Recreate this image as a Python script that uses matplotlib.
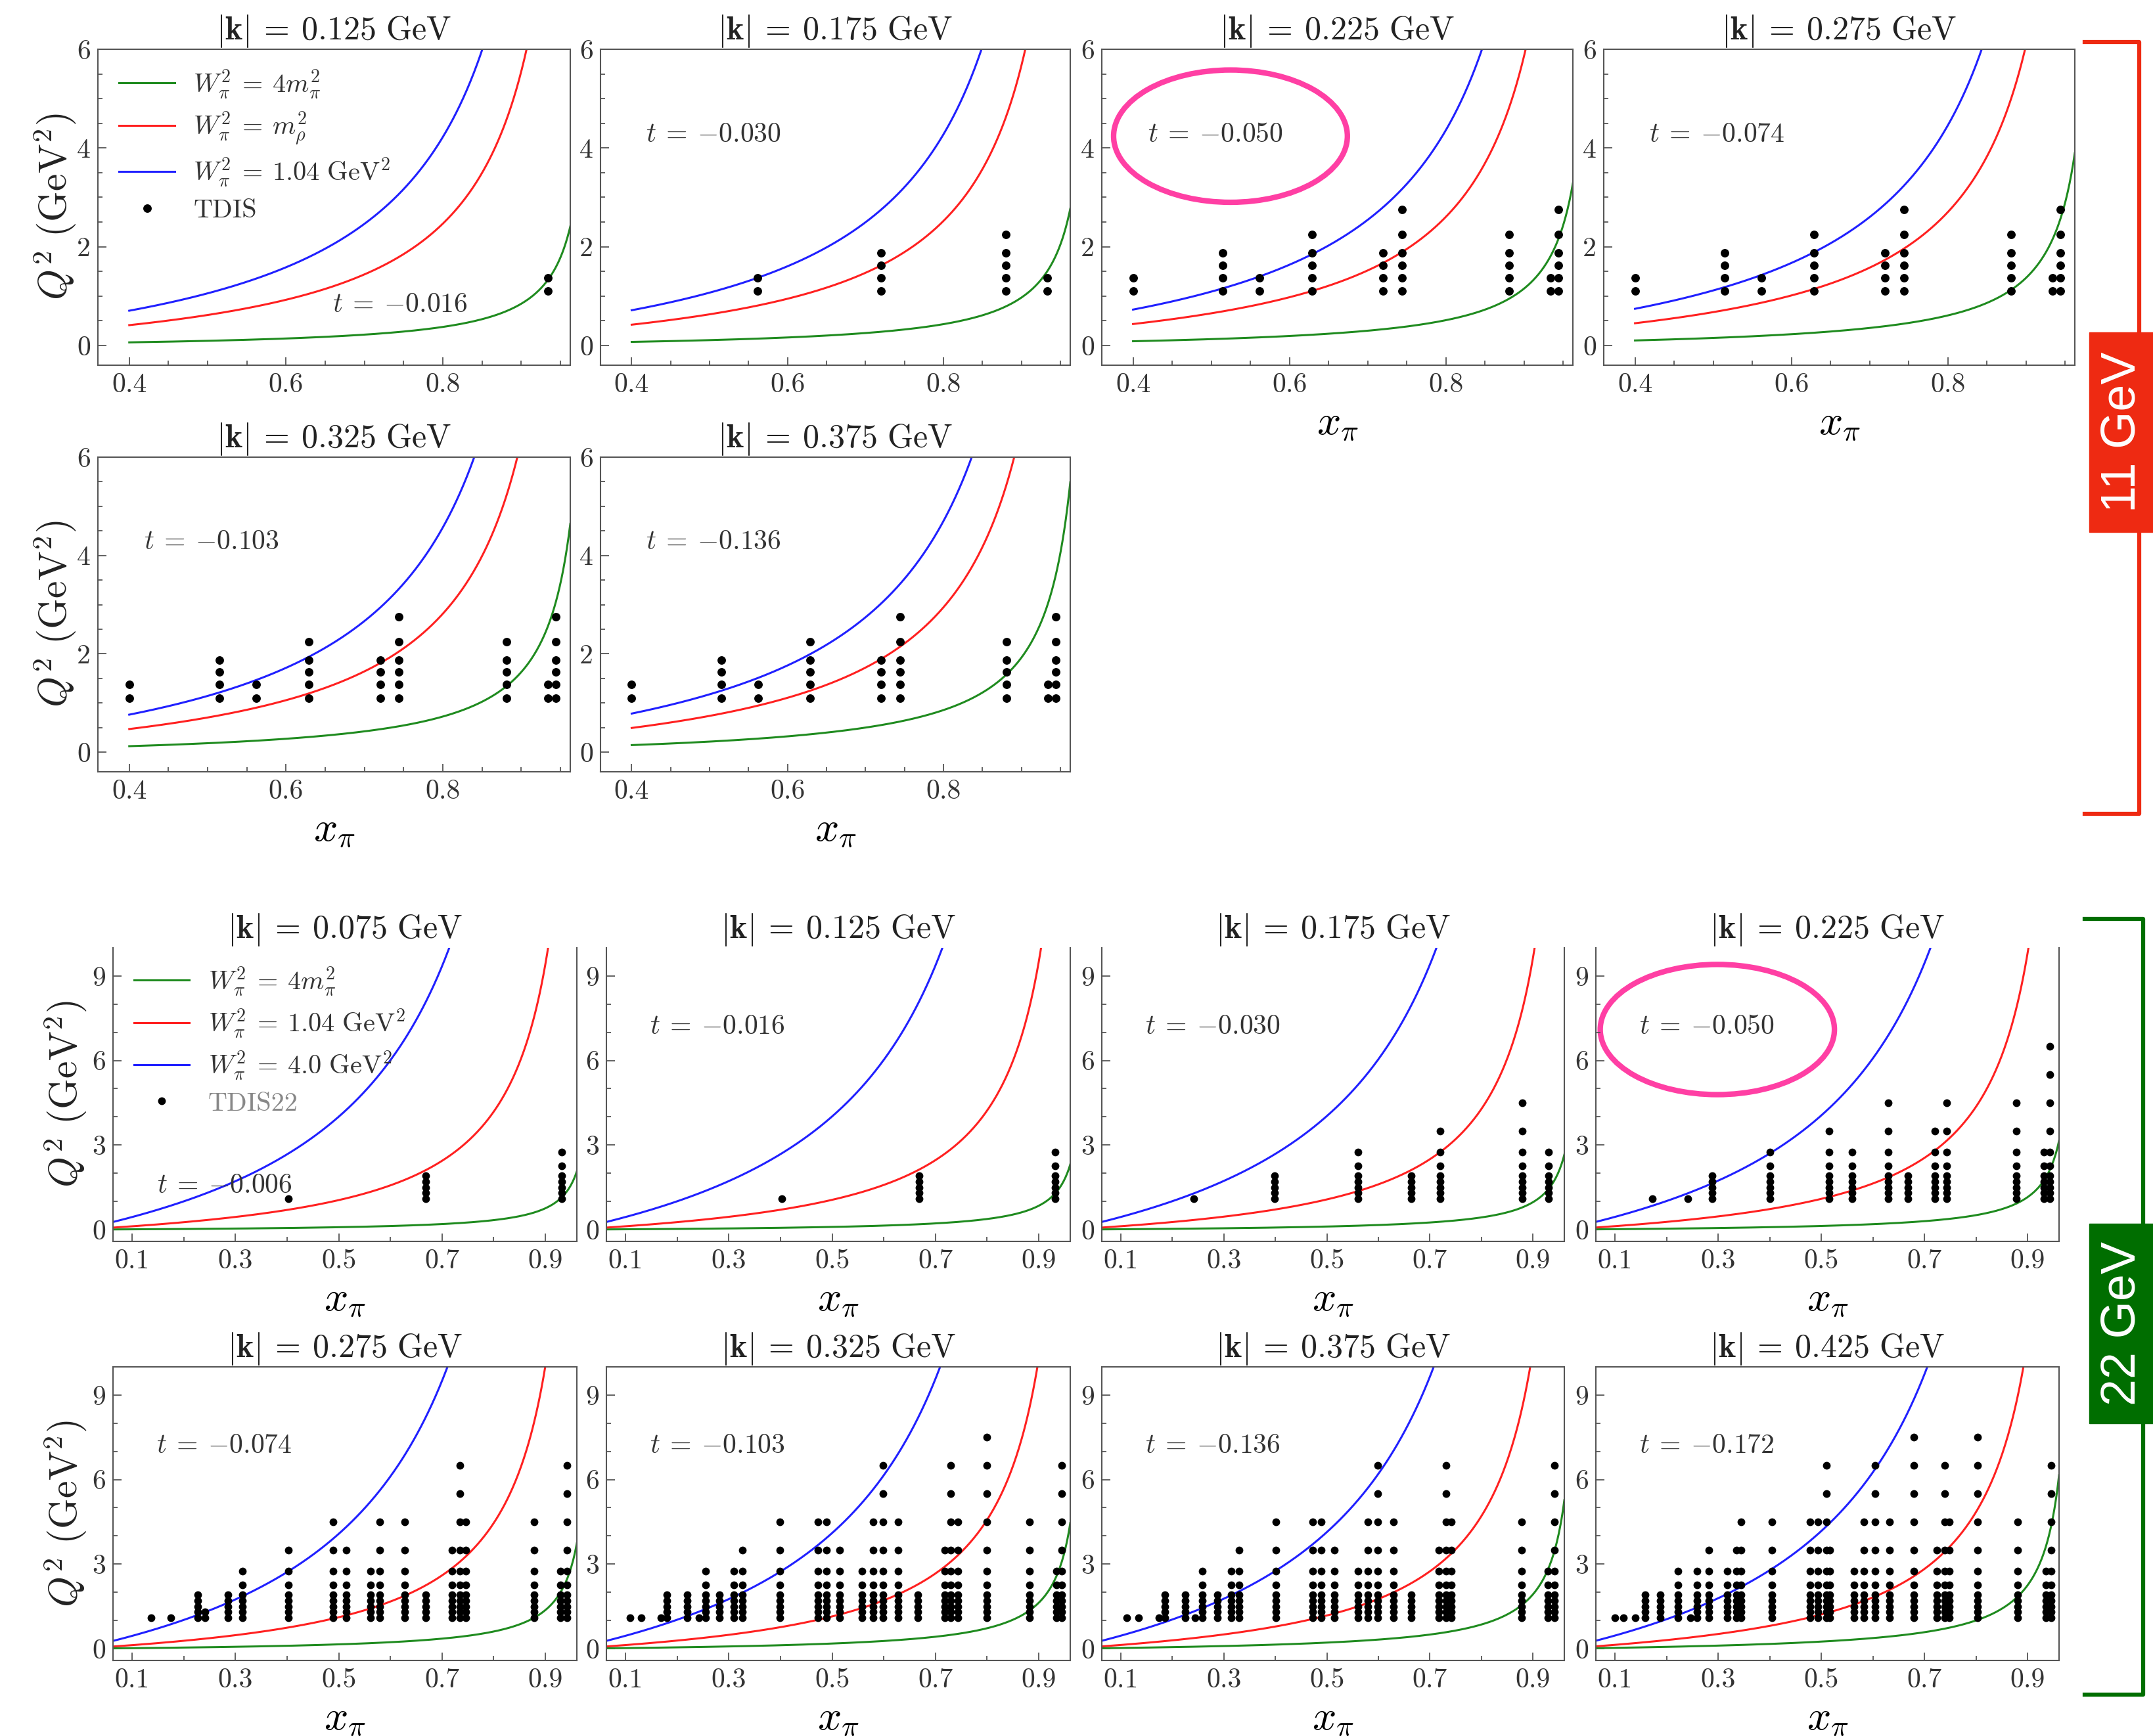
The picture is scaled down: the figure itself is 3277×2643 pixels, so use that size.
import numpy as np
import matplotlib.pyplot as plt
from matplotlib.patches import Ellipse, Rectangle
from matplotlib.lines import Line2D

plt.rcParams['font.family'] = 'serif'
plt.rcParams['font.serif'] = ['cmr10', 'DejaVu Serif']
plt.rcParams['mathtext.fontset'] = 'cm'
plt.rcParams['axes.formatter.use_mathtext'] = True

# masses in GeV^2 (legend constants)
m_pi2 = 0.13957 ** 2
m_rho2 = 0.77526 ** 2

# ---------------- 11 GeV ----------------
k_11 = ['0.125', '0.175', '0.225', '0.275', '0.325', '0.375']
t_11 = [-0.016, -0.030, -0.050, -0.074, -0.103, -0.136]
w2_11 = [4 * m_pi2, m_rho2, 1.04]
w2_labels_11 = [r'$W_\pi^2 \:=\: 4m_\pi^2$', r'$W_\pi^2 \:=\: m_\rho^2$',
                r'$W_\pi^2 \:=\: 1.04\ \mathrm{GeV}^2$', 'TDIS']
q2_bins_11 = [1.1, 1.375, 1.625, 1.875, 2.25, 2.75]

# TDIS points: x_pi of each column and number of Q^2 bins filled in it
cols_x_11 = [
    [0.934],
    [0.561, 0.720, 0.880, 0.933],
    [0.400, 0.515, 0.562, 0.629, 0.720, 0.744, 0.881, 0.934, 0.944],
    [0.400, 0.515, 0.562, 0.629, 0.720, 0.744, 0.881, 0.934, 0.944],
    [0.400, 0.515, 0.562, 0.629, 0.720, 0.744, 0.881, 0.934, 0.944],
    [0.400, 0.515, 0.562, 0.629, 0.720, 0.744, 0.881, 0.934, 0.944],
]
cols_n_11 = [
    [2],
    [2, 4, 5, 2],
    [2, 4, 2, 5, 4, 6, 5, 2, 6],
    [2, 4, 2, 5, 4, 6, 5, 2, 6],
    [2, 4, 2, 5, 4, 6, 5, 2, 6],
    [2, 4, 2, 5, 4, 6, 5, 2, 6],
]

# ---------------- 22 GeV ----------------
k_22 = ['0.075', '0.125', '0.175', '0.225', '0.275', '0.325', '0.375', '0.425']
t_22 = [-0.006, -0.016, -0.030, -0.050, -0.074, -0.103, -0.136, -0.172]
w2_22 = [4 * m_pi2, 1.04, 4.0]
w2_labels_22 = [r'$W_\pi^2 \:=\: 4m_\pi^2$', r'$W_\pi^2 \:=\: 1.04\ \mathrm{GeV}^2$',
                r'$W_\pi^2 \:=\: 4.0\ \mathrm{GeV}^2$', 'TDIS22']
q2_bins_22 = [1.1, 1.3, 1.5, 1.7, 1.9, 2.25, 2.75, 3.5, 4.5, 5.5, 6.5, 7.5]

cols_x_22 = [
    [0.402, 0.668, 0.932],
    [0.402, 0.668, 0.932],
    [0.241, 0.399, 0.560, 0.664, 0.720, 0.879, 0.931],
    [0.172, 0.241, 0.288, 0.400, 0.515, 0.560, 0.630, 0.668, 0.720, 0.743,
     0.878, 0.932, 0.943],
    [0.137, 0.175, 0.227, 0.241, 0.286, 0.313, 0.402, 0.489, 0.515, 0.562,
     0.579, 0.628, 0.668, 0.719, 0.734, 0.746, 0.878, 0.929, 0.942],
    [0.109, 0.131, 0.169, 0.180, 0.219, 0.242, 0.255, 0.282, 0.310, 0.326,
     0.399, 0.472, 0.489, 0.515, 0.558, 0.579, 0.599, 0.628, 0.666, 0.718,
     0.730, 0.743, 0.800, 0.882, 0.934, 0.944],
    [0.111, 0.135, 0.174, 0.185, 0.225, 0.244, 0.258, 0.288, 0.314, 0.330,
     0.401, 0.473, 0.489, 0.515, 0.560, 0.579, 0.599, 0.629, 0.664, 0.718,
     0.731, 0.741, 0.878, 0.929, 0.942],
    [0.100, 0.116, 0.140, 0.158, 0.188, 0.222, 0.247, 0.259, 0.282, 0.318,
     0.336, 0.345, 0.405, 0.478, 0.494, 0.510, 0.517, 0.564, 0.583, 0.604,
     0.633, 0.679, 0.724, 0.739, 0.748, 0.803, 0.881, 0.935, 0.946],
]
cols_n_22 = [
    [1, 5, 7],
    [1, 5, 7],
    [1, 5, 7, 5, 8, 9, 7],
    [1, 1, 5, 7, 8, 7, 9, 5, 8, 9, 9, 7, 11],
    [1, 1, 5, 2, 5, 7, 8, 9, 8, 7, 9, 9, 5, 8, 11, 9, 9, 7, 11],
    [1, 1, 1, 5, 5, 1, 7, 5, 7, 8, 9, 9, 9, 8, 7, 9, 11, 9, 5, 8, 11, 9, 12,
     9, 7, 11],
    [1, 1, 1, 5, 5, 1, 7, 5, 7, 8, 9, 9, 9, 8, 7, 9, 11, 9, 5, 8, 11, 9, 9,
     7, 11],
    [1, 1, 1, 5, 5, 7, 1, 7, 8, 7, 8, 9, 9, 9, 9, 11, 8, 7, 9, 11, 9, 12, 8,
     11, 9, 12, 9, 7, 11],
]

curve_colors = ['#1f8b1f', '#ff2020', '#2020ff']
W, H = 3277, 2643


def box(left, top, right, bottom):
    return [left / W, 1 - bottom / H, (right - left) / W, (bottom - top) / H]


def t_text(t):
    return r'$t \:=\: %.3f$' % t


def draw_panel(ax, k, t, w2s, xcols, ncols, bins, x0, xlim, ylim, ms):
    x = np.linspace(x0, xlim[1], 500)
    lines = []
    for w2, c in zip(w2s, curve_colors):
        ln, = ax.plot(x, (w2 - t) * x / (1 - x), color=c, lw=2.2)
        lines.append(ln)
    xs = [xc for xc, n in zip(xcols, ncols) for _ in range(n)]
    qs = [q for n in ncols for q in bins[:n]]
    dots, = ax.plot(xs, qs, 'o', color='k', ms=ms, mew=0, zorder=5)
    ax.set_xlim(*xlim)
    ax.set_ylim(*ylim)
    ax.set_title(r'$|\mathbf{k}| \:=\: %s\ \mathrm{GeV}$' % k, fontsize=36,
                 pad=6, color='#222')
    ax.tick_params(which='both', direction='in', color='#555', width=1.3,
                   labelsize=30, labelcolor='#333', pad=8)
    ax.tick_params(which='major', length=9)
    ax.tick_params(which='minor', length=5)
    for s in ax.spines.values():
        s.set_color('#555')
        s.set_linewidth(1.5)
    return lines + [dots]


fig = plt.figure(figsize=(W / 100, H / 100), dpi=100)

# ---- 11 GeV panels ----
t_lefts = [149, 914, 1677, 2441]
t_rights = [868, 1629, 2394, 3158]
t_rows = [(75, 556), (696, 1175)]
for i in range(6):
    r, c = divmod(i, 4)
    ax = fig.add_axes(box(t_lefts[c], t_rows[r][0], t_rights[c], t_rows[r][1]))
    handles = draw_panel(ax, k_11[i], t_11[i], w2_11, cols_x_11[i], cols_n_11[i],
                         q2_bins_11, 0.4, (0.36, 0.9625), (-0.4, 6), 9.3)
    ax.set_xticks([0.4, 0.6, 0.8])
    ax.set_xticklabels(['0.4', '0.6', '0.8'])
    ax.set_xticks(np.arange(0.40, 0.96, 0.05), minor=True)
    ax.set_yticks([0, 2, 4, 6])
    ax.set_yticklabels(['0', '2', '4', '6'])
    ax.set_yticks(np.arange(0, 6.01, 0.5), minor=True)
    if i == 0:
        ax.text(0.745, 0.82, t_text(t_11[i]), fontsize=30,
                ha='center', va='center', color='#333')
        leg = ax.legend(handles, w2_labels_11, loc='upper left',
                        bbox_to_anchor=(0.045, 0.94), frameon=False,
                        fontsize=29, handlelength=2.1, handletextpad=0.7,
                        labelspacing=0.35, borderpad=0, borderaxespad=0,
                        numpoints=1)
        for txt in leg.get_texts():
            txt.set_color('#333')
    else:
        ax.text(0.505, 4.27, t_text(t_11[i]), fontsize=30,
                ha='center', va='center', color='#333')
    if i >= 2:
        ax.set_xlabel(r'$x_\pi$', fontsize=46, labelpad=8)
    if i == 2:
        ax.add_patch(Ellipse((0.5246, 4.24), 0.299, 2.68, fill=False,
                             edgecolor='#ff3fa4', lw=6, clip_on=False))

# ---- 22 GeV panels ----
b_lefts = [172, 923, 1677, 2429]
b_rights = [878, 1629, 2381, 3134]
b_rows = [(1443, 1890), (2081, 2528)]
for i in range(8):
    r, c = divmod(i, 4)
    ax = fig.add_axes(box(b_lefts[c], b_rows[r][0], b_rights[c], b_rows[r][1]))
    handles = draw_panel(ax, k_22[i], t_22[i], w2_22, cols_x_22[i], cols_n_22[i],
                         q2_bins_22, 0.063, (0.063, 0.961), (-0.42, 10), 8.5)
    ax.set_xticks([0.1, 0.3, 0.5, 0.7, 0.9])
    ax.set_xticklabels(['0.1', '0.3', '0.5', '0.7', '0.9'])
    ax.set_xticks([0.2, 0.4, 0.6, 0.8], minor=True)
    ax.set_yticks([0, 3, 6, 9])
    ax.set_yticklabels(['0', '3', '6', '9'])
    ax.set_yticks(np.arange(0, 10), minor=True)
    if r == 0:
        ax.spines['top'].set_visible(False)
    ax.set_xlabel(r'$x_\pi$', fontsize=46, labelpad=8)
    if i == 0:
        ax.text(0.279, 1.55, t_text(t_22[i]), fontsize=30,
                ha='center', va='center', color='#333')
        leg = ax.legend(handles, w2_labels_22, loc='upper left',
                        bbox_to_anchor=(0.045, 0.94), frameon=False,
                        fontsize=29, handlelength=2.1, handletextpad=0.7,
                        labelspacing=0.35, borderpad=0, borderaxespad=0,
                        numpoints=1)
        for txt in leg.get_texts():
            txt.set_color('#333')
        leg.get_texts()[3].set_color('#888')
    else:
        ax.text(0.278, 7.2, t_text(t_22[i]), fontsize=30,
                ha='center', va='center', color='#333')
    if i == 3:
        ax.add_patch(Ellipse((0.2985, 7.10), 0.454, 4.62, fill=False,
                             edgecolor='#ff3fa4', lw=6, clip_on=False))

# y labels
for yc, xc in [(315, 84), (935, 84), (1666, 100), (2305, 100)]:
    fig.text(xc / W, 1 - yc / H, r'$Q^2\ (\mathrm{GeV}^2)$', fontsize=43,
             rotation=90, ha='center', va='center', color='#222')

# beam-energy brackets
for pts, color, (bt, bb), label in [
        ([(3173, 64), (3256, 64), (3256, 1239), (3173, 1239)], '#ee2a12',
         (506, 810), '11 GeV'),
        ([(3173, 1399), (3262, 1399), (3262, 2580), (3173, 2580)], '#006e00',
         (1863, 2167), '22 GeV')]:
    xs = [p[0] / W for p in pts]
    ys = [1 - p[1] / H for p in pts]
    fig.add_artist(Line2D(xs, ys, color=color, lw=4.5))
    fig.add_artist(Rectangle((3180 / W, 1 - bb / H), (W - 3180) / W,
                             (bb - bt) / H, color=color, transform=fig.transFigure))
    fig.text(3230 / W, 1 - (bt + bb) / 2 / H, label, rotation=90,
             ha='center', va='center', color='white', fontsize=53,
             family=['Liberation Sans', 'DejaVu Sans'])

fig.savefig('out.png', dpi=100, facecolor='white')
